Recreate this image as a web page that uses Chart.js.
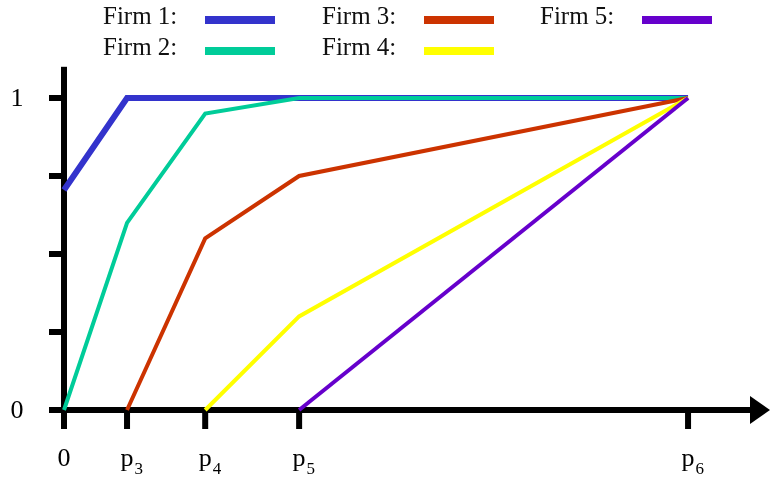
<!DOCTYPE html>
<html>
<head>
<meta charset="utf-8">
<script src="https://cdn.jsdelivr.net/npm/chart.js@4/dist/chart.umd.min.js"></script>
<style>
  html, body { margin: 0; padding: 0; background: #fff; }
  canvas { display: block; }
</style>
</head>
<body>
<canvas id="chart" width="770" height="477"></canvas>
<script>
// x positions of 0, p3, p4, p5, p6
const positions = [0, 1, 2.24, 3.73, 9.9];
const tickNames = ['0', 'p', 'p', 'p', 'p'];
const tickSubs = ['', '3', '4', '5', '6'];
const yTicks = [0.25, 0.5, 0.75, 1];
const yLabels = { 0: '0', 1: '1' };

const firmNames = ['Firm 1:', 'Firm 2:', 'Firm 3:', 'Firm 4:', 'Firm 5:'];
const firmColors = ['#3333CC', '#00CC99', '#CC3300', '#FFFF00', '#6600CC'];
const firmWidths = [6, 4, 4, 4, 4];

// share of firm at each position (null = not yet on the line)
const firm1 = [0.705, 1, 1, 1, 1];
const firm2 = [0, 0.6, 0.95, 1, 1];
const firm3 = [null, 0, 0.55, 0.75, 1];
const firm4 = [null, null, 0, 0.3, 1];
const firm5 = [null, null, null, 0, 1];
const firmValues = [firm1, firm2, firm3, firm4, firm5];

const SERIF = '"Liberation Serif", "DejaVu Serif", serif';

function toPoints(vals) {
    const pts = [];
    vals.forEach((v, i) => {
        if (v !== null) pts.push({ x: positions[i], y: v });
    });
    return pts;
}

const datasets = firmValues.map((vals, i) => ({
    label: firmNames[i],
    data: toPoints(vals),
    borderColor: firmColors[i],
    backgroundColor: firmColors[i],
    borderWidth: firmWidths[i],
    pointRadius: 0,
    tension: 0,
    clip: false,
    order: 5 - i
}));

// axes, ticks and labels drawn from the scales
const axesPlugin = {
    id: 'axes',
    beforeDatasetsDraw(chart) {
        const ctx = chart.ctx;
        const xs = chart.scales.x, ys = chart.scales.y;
        const x0 = xs.getPixelForValue(0);
        const y0 = ys.getPixelForValue(0);
        const area = chart.chartArea;
        ctx.save();
        ctx.fillStyle = '#000';
        // x axis with arrow
        ctx.fillRect(x0 - 15, y0 - 3, area.right - 19 - (x0 - 15), 6);
        ctx.beginPath();
        ctx.moveTo(area.right - 20, y0 - 14);
        ctx.lineTo(area.right, y0);
        ctx.lineTo(area.right - 20, y0 + 14);
        ctx.closePath();
        ctx.fill();
        // y axis
        ctx.fillRect(x0 - 3, area.top, 6, y0 + 19 - area.top);
        // x ticks
        positions.forEach(p => {
            const px = xs.getPixelForValue(p);
            ctx.fillRect(px - 3, y0, 6, 19);
        });
        // y ticks
        yTicks.forEach(v => {
            const py = ys.getPixelForValue(v);
            ctx.fillRect(x0 - 15, py - 3, 15, 6);
        });
        // y labels
        ctx.font = '26px ' + SERIF;
        ctx.textAlign = 'center';
        ctx.textBaseline = 'middle';
        Object.keys(yLabels).forEach(k => {
            ctx.fillText(yLabels[k], 17, ys.getPixelForValue(Number(k)) + 1);
        });
        // x labels with subscripts
        ctx.textBaseline = 'alphabetic';
        positions.forEach((p, i) => {
            const px = xs.getPixelForValue(p);
            ctx.font = '26px ' + SERIF;
            ctx.textAlign = 'center';
            ctx.fillText(tickNames[i], px, 466);
            if (tickSubs[i]) {
                const w = ctx.measureText(tickNames[i]).width;
                ctx.font = '17px ' + SERIF;
                ctx.textAlign = 'left';
                ctx.fillText(tickSubs[i], px + w / 2 + 1, 474);
            }
        });
        ctx.restore();
    },
    afterDraw(chart) {
        // legend: two rows, three columns
        const ctx = chart.ctx;
        const colX = [103, 322, 540];
        const rowY = [24, 55];
        ctx.save();
        ctx.font = '25px ' + SERIF;
        ctx.textAlign = 'left';
        ctx.textBaseline = 'alphabetic';
        chart.data.datasets.forEach((ds, i) => {
            const x = colX[Math.floor(i / 2)];
            const y = rowY[i % 2];
            ctx.fillStyle = '#111';
            ctx.fillText(ds.label, x, y);
            ctx.fillStyle = ds.borderColor;
            ctx.fillRect(x + 102, y - 8, 70, 8);
        });
        ctx.restore();
    }
};

new Chart(document.getElementById('chart'), {
    type: 'line',
    data: { datasets: datasets },
    options: {
        responsive: false,
        animation: false,
        layout: { padding: { left: 64, right: 0, top: 66.8, bottom: 67 } },
        scales: {
            x: { type: 'linear', min: 0, max: 11.2, display: false },
            y: { type: 'linear', min: 0, max: 1.1, display: false }
        },
        plugins: {
            legend: { display: false },
            tooltip: { enabled: false }
        }
    },
    plugins: [axesPlugin]
});
</script>
</body>
</html>
